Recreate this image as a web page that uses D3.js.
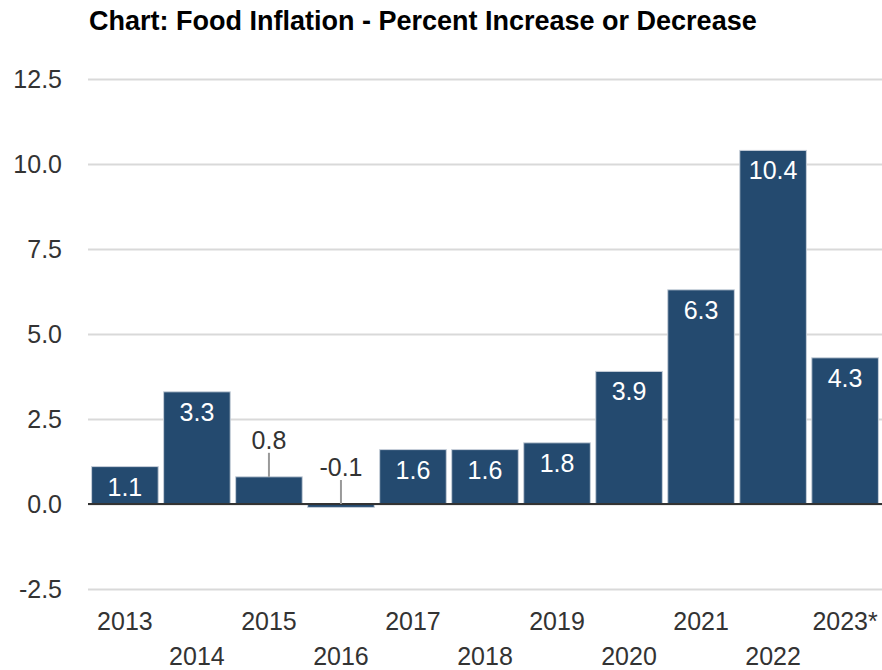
<!DOCTYPE html>
<html><head><meta charset="utf-8">
<script src="https://cdn.jsdelivr.net/npm/d3@7"></script>
<style>body{margin:0;background:#fff;}svg{display:block;}</style>
</head><body>
<svg id="c" width="882" height="670"></svg>
<script>
const categories = ["2013","2014","2015","2016","2017","2018","2019","2020","2021","2022","2023*"];
const values = [1.1, 3.3, 0.8, -0.1, 1.6, 1.6, 1.8, 3.9, 6.3, 10.4, 4.3];
const yTicks = [-2.5, 0, 2.5, 5, 7.5, 10, 12.5];
const title = "Chart: Food Inflation - Percent Increase or Decrease";

const svg = d3.select("#c");
const pLeft = 88, pRight = 882, pTop = 79, pBottom = 589;
const x = d3.scaleBand().domain(categories).range([pLeft, pRight]).paddingInner(0.075).paddingOuter(0.05);
const y = d3.scaleLinear().domain([-2.5, 12.5]).range([pBottom, pTop]);
const font = "'Liberation Sans', Arial, sans-serif";
const fs = 25;

svg.append("text").attr("x", 89).attr("y", 30).attr("font-family", font)
  .attr("font-weight", "bold").attr("font-size", 27).attr("fill", "#000").text(title);

const yAxis = d3.axisLeft(y).tickValues(yTicks).tickSize(-(pRight - pLeft)).tickFormat(d => d3.format(".1f")(d).replace("\u2212", "-"));
const ga = svg.append("g").attr("transform", `translate(${pLeft},0)`).call(yAxis);
ga.select(".domain").remove();
ga.selectAll(".tick line").attr("stroke", "#d9d9d9").attr("stroke-width", 2);
ga.selectAll(".tick text").attr("x", -26).attr("font-family", font).attr("font-size", fs).attr("fill", "#333");

svg.selectAll("rect.bar").data(values).join("rect").attr("class", "bar")
  .attr("x", (d, i) => x(categories[i])).attr("width", x.bandwidth())
  .attr("y", d => y(Math.max(0, d))).attr("height", d => Math.abs(y(d) - y(0)))
  .attr("fill", "#244a6f").attr("stroke", "#c8d0da").attr("stroke-width", 1);

svg.append("line").attr("x1", pLeft).attr("x2", pRight).attr("y1", y(0)).attr("y2", y(0))
  .attr("stroke", "#333").attr("stroke-width", 2);

values.forEach((d, i) => {
  const cx = x(categories[i]) + x.bandwidth() / 2;
  if (Math.abs(d) >= 1) {
    svg.append("text").attr("x", cx).attr("y", y(d) + 29).attr("text-anchor", "middle")
      .attr("font-family", font).attr("font-size", fs).attr("fill", "#fff").text(d.toFixed(1));
  } else {
    const base = d >= 0 ? y(d) : y(0);
    svg.append("line").attr("x1", cx).attr("x2", cx).attr("y1", base)
      .attr("y2", base - 24).attr("stroke", "#999").attr("stroke-width", 2);
    svg.append("text").attr("x", cx).attr("y", base - 28).attr("text-anchor", "middle")
      .attr("font-family", font).attr("font-size", fs).attr("fill", "#333").text(d.toFixed(1));
  }
});

svg.selectAll("text.xl").data(categories).join("text").attr("class", "xl")
  .attr("x", d => x(d) + x.bandwidth() / 2).attr("y", (d, i) => i % 2 === 0 ? 630 : 665)
  .attr("text-anchor", "middle").attr("font-family", font).attr("font-size", fs).attr("fill", "#333").text(d => d);
</script>
</body></html>
